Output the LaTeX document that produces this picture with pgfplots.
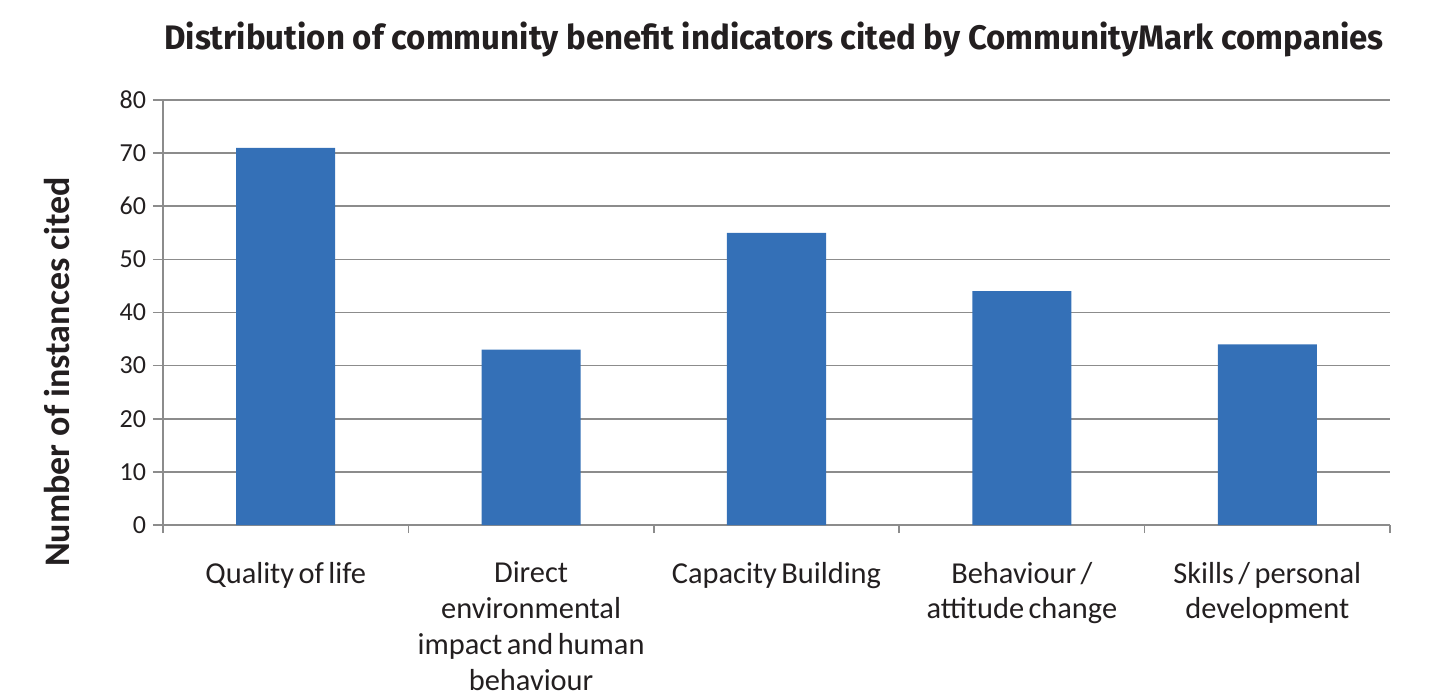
\documentclass[border=0pt]{standalone}
\usepackage{pgfplots}
\pgfplotsset{compat=1.18}
\usepackage{fontspec}
\setmainfont{Carlito}
\newfontfamily\labfont[WordSpace=0.65]{Carlito}
\newfontfamily\titlefont[FakeStretch=0.97]{Fira Sans}
\definecolor{barblue}{HTML}{3470B7}
\definecolor{txt}{HTML}{231F20}
\definecolor{gridgray}{HTML}{8C8C8C}

\begin{document}
\begin{tikzpicture}
  \begin{axis}[
    at={(81.5pt,86pt)}, anchor=south west,
    width=613.5pt, height=212.5pt, scale only axis,
    ybar, bar width=49.5pt, bar shift=0pt,
    ymin=0, ymax=80, ytick={0,10,...,80},
    xmin=0.5, xmax=5.5,
    xtick={1,2,3,4,5},
    xticklabels={Quality of life,
      Direct\\environmental\\impact and human\\behaviour,
      Capacity Building,
      Behaviour /\\attitude change,
      Skills / personal\\development},
    minor xtick={0.5,1.5,...,5.5},
    major x tick style={draw=none},
    minor x tick style={gridgray, line width=0.8pt},
    y tick style={gridgray, line width=0.8pt},
    tick align=outside,
    major tick length=5pt, minor tick length=4pt,
    axis x line*=bottom, axis y line*=left,
    axis line style={gridgray, line width=0.8pt, -},
    ymajorgrids, xmajorgrids=false,
    major grid style={gridgray, line width=0.8pt},
    /pgf/number format/assume math mode=true,
    tick label style={font=\fontsize{13}{17.75}\selectfont, text=txt},
    xticklabel style={align=center, anchor=north, yshift=-10pt,
      font=\labfont\fontsize{15.2}{17.9}\selectfont},
    ylabel={Number of instances cited},
    ylabel style={at={(axis description cs:-0.0864,0.36)}, anchor=center, rotate=0,
      font=\fontsize{18}{20}\selectfont\bfseries, text=txt},
  ]
    \addplot[fill=barblue, draw=none] coordinates {(1,71) (2,33) (3,55) (4,44) (5,34)};
  \end{axis}
  \node[anchor=base, text=txt, font=\titlefont\bfseries\fontsize{17}{20}\selectfont]
    at (387pt,323.5pt) {Distribution of community benefit indicators cited by CommunityMark companies};
  \pgfresetboundingbox
  \path (0,0) rectangle (721pt,348.5pt);
\end{tikzpicture}
\end{document}
